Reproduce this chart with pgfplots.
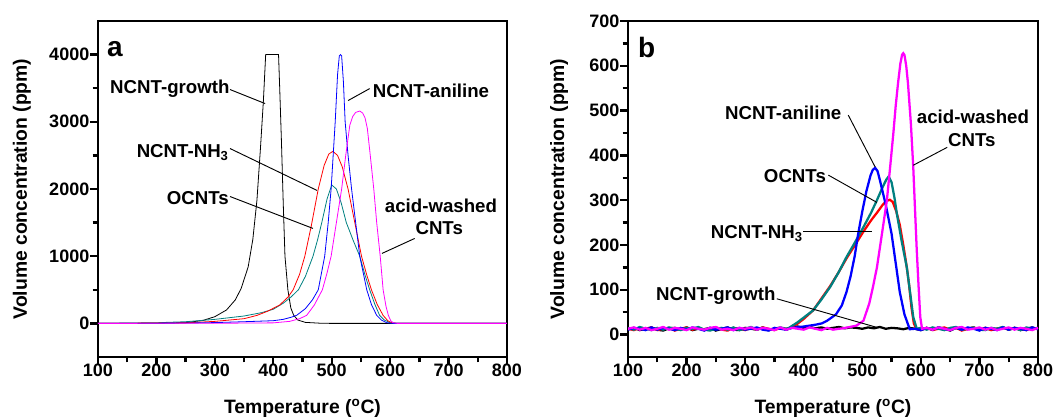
\documentclass[border=0pt]{standalone}
\usepackage{pgfplots}
\pgfplotsset{compat=1.18}
\usepackage{fontspec}
\setmainfont{Liberation Sans}
\definecolor{cteal}{RGB}{0,128,128}
\definecolor{cmag}{RGB}{255,0,255}
\definecolor{cblue}{RGB}{0,0,255}
\definecolor{cred}{RGB}{255,0,0}

\newcommand{\lbl}{\fontsize{14}{16}\selectfont\bfseries}

\pgfplotsset{
  tpo/.style={
    scale only axis, width=306.75pt, height=252pt,
    axis line style={line width=2pt},
    xmin=100, xmax=800, xtick={100,200,...,800}, minor x tick num=1,
    minor y tick num=1,
    xtick align=outside, ytick align=outside, xtick pos=left, ytick pos=left,
    major tick length=6pt, minor tick length=4pt,
    major tick style={line width=1.8pt, black},
    minor tick style={line width=1.8pt, black},
    tick label style={font=\fontsize{13.5}{16}\selectfont\bfseries},
    xticklabel style={yshift=4pt},
    yticklabel style={xshift=3pt},
    /pgf/number format/assume math mode=true,
    /pgf/number format/1000 sep={},
    scaled y ticks=false,
    label style={font=\fontsize{14.5}{17}\selectfont\bfseries},
    xlabel={Temperature (\textsuperscript{o}C)},
    ylabel={Volume concentration (ppm)},
    x label style={at={(axis description cs:0.5,-0.152)}, anchor=center},
  },
  pa/.style={line width=0.6pt},
  pb/.style={line width=1.7pt},
}

\begin{document}
\begin{tikzpicture}
\path[use as bounding box] (0,0) rectangle (792pt,315pt);

% ---- panel a ----
\begin{axis}[tpo, at={(73.5pt,47.25pt)}, anchor=south west,
  ymin=-500, ymax=4500, ytick={0,1000,...,4000},
  y label style={at={(axis description cs:-0.186,0.5)}, anchor=center}]
\addplot[pa, black] coordinates {
  (100,0) (200,2) (250,10) (280,45) (300,100) (320,200) (335,350) (345,520)
  (357,840) (365,1250) (372,1830) (378,2600) (383,3300) (387,4000) (409,4000)
  (411,3500) (414,2700) (417,1800) (420,1000) (425,500) (430,230) (435,120)
  (442,50) (455,15) (480,3) (500,0) (800,0)
};
\addplot[pa, cteal] coordinates {
  (100,0) (200,10) (250,25) (300,60) (350,110) (380,160) (400,210) (417,300)
  (430,390) (443,500) (455,700) (468,1000) (476,1250) (483,1500) (492,1850)
  (500,2060) (508,2000) (516,1800) (525,1500) (537,1230) (548,1000) (557,720)
  (565,500) (574,280) (582,119) (590,50) (600,10) (612,0) (800,0)
};
\addplot[pa, cred] coordinates {
  (100,0) (250,8) (300,30) (350,70) (372,119) (390,180) (411,274) (425,390)
  (434,500) (445,730) (454,1000) (465,1450) (477,2000) (487,2350) (495,2520)
  (502,2560) (510,2500) (518,2330) (528,2000) (540,1480) (551,1000) (560,720)
  (568,500) (578,280) (588,119) (596,40) (603,8) (615,0) (800,0)
};
\addplot[pa, cblue] coordinates {
  (100,0) (250,5) (300,12) (350,25) (400,40) (417,60) (430,90) (440,120)
  (455,220) (467,350) (477,500) (488,1000) (494,1500) (499,2000) (506,3000)
  (510,3700) (513,3980) (515,4000) (517,3980) (520,3600) (523,3000) (528,2500) (534,2000)
  (541,1500) (548,1000) (560,500) (568,280) (577,120) (585,50) (594,10)
  (605,0) (800,0)
};
\addplot[pa, cmag] coordinates {
  (100,0) (300,2) (400,8) (428,30) (445,70) (457,119) (470,270) (484,500)
  (492,750) (499,1000) (508,1500) (517,2000) (524,2500) (531,2950) (536,3080) (541,3140)
  (548,3160) (553,3130) (557,3060) (561,2900) (566,2500) (572,2000) (577,1500) (583,1000)
  (588,500) (593,250) (597,119) (601,40) (605,10) (612,0) (800,0)
};
\node[font=\fontsize{21}{24}\selectfont\bfseries] at (axis cs:129,4089) {a};
\node[font=\lbl] at (axis cs:223,3495) {NCNT-growth};
\draw[line width=0.7pt] (axis cs:326,3480) -- (axis cs:386,3271);
\node[font=\lbl] at (axis cs:670,3465) {NCNT-aniline};
\draw[line width=0.7pt] (axis cs:565,3494) -- (axis cs:528,3316);
\node[font=\lbl] at (axis cs:245,2543) {NCNT-NH\textsubscript{3}};
\draw[line width=0.7pt] (axis cs:326,2602) -- (axis cs:475,1978);
\node[font=\lbl] at (axis cs:271,1859) {OCNTs};
\draw[line width=0.7pt] (axis cs:326,1888) -- (axis cs:468,1413);
\node[font=\lbl] at (axis cs:687,1755) {acid-washed};
\node[font=\lbl] at (axis cs:684,1413) {CNTs};
\draw[line width=0.7pt] (axis cs:642,1264) -- (axis cs:586,1041);
\end{axis}

% ---- panel b ----
\begin{axis}[tpo, width=307.5pt, at={(471pt,47.25pt)}, anchor=south west,
  ymin=-50, ymax=700, ytick={0,100,...,700},
  y label style={at={(axis description cs:-0.168,0.5)}, anchor=center}]
\addplot[pb, black] coordinates {
  (100,12)(110,15)(120,10)(130,13)(140,16)(150,11)(160,9)(170,14)(180,15)(190,11)
  (200,16)(210,10)(220,13)(230,12)(240,15)(250,9)(260,13)(270,16)(280,11)(290,10)
  (300,15)(310,13)(320,11)(330,16)(340,10)(350,13)(360,15)(370,11)(380,16)(390,18)
  (400,15)(410,17)(420,14)(430,16)(440,13)(450,15)(460,17)(470,14)(480,16)(490,15)
  (500,13)(510,16)(520,14)(530,17)(540,13)(550,15)(560,14)(570,12)(580,15)(590,13)
  (600,10)(610,15)(620,11)(630,16)(640,13)(650,9)(660,15)(670,11)(680,13)(690,16)
  (700,10)(710,15)(720,11)(730,13)(740,16)(750,11)(760,15)(770,10)(780,13)(790,16)(800,12)
};
\addplot[pb, cred] coordinates {
  (100,13)(110,10)(120,15)(130,11)(140,16)(150,10)(160,13)(170,15)(180,9)(190,13)
  (200,16)(210,11)(220,15)(230,10)(240,13)(250,16)(260,11)(270,9)(280,15)(290,13)
  (300,10)(310,15)(320,11)(330,16)(340,13)(350,10)(360,15)(370,13)(380,16)(390,25)
  (400,35)(416,54)(430,80)(445,108)(460,140)(473,170)(490,205)(502,230)(515,255)
  (525,272)(535,290)(541,298)(547,301)(552,296)(558,275)(564,245)(570,200)(576,150)
  (580,110)(584,60)(588,25)(592,13)(600,11)(610,15)(620,10)(630,13)(640,16)(650,11)
  (660,15)(670,9)(680,13)(690,16)(700,11)(710,15)(720,10)(730,13)(740,16)(750,11)
  (760,15)(770,13)(780,10)(790,15)(800,13)
};
\addplot[pb, cteal] coordinates {
  (100,15)(110,11)(120,17)(130,13)(140,10)(150,15)(160,11)(170,16)(180,13)(190,10)
  (200,15)(210,13)(220,17)(230,11)(240,9)(250,13)(260,15)(270,11)(280,16)(290,10)
  (300,13)(310,17)(320,11)(330,15)(340,10)(350,13)(360,16)(370,13)(375,15)(390,28)
  (400,38)(416,54)(430,78)(445,106)(460,140)(473,173)(488,207)(502,240)(515,272)
  (525,300)(535,330)(541,346)(545,353)(550,340)(555,305)(559,270)(567,210)(576,150)
  (582,90)(587,39)(593,13)(600,15)(610,11)(620,16)(630,13)(640,10)(650,15)(660,17)
  (670,11)(680,13)(690,16)(700,11)(710,10)(720,15)(730,13)(740,17)(750,11)(760,15)
  (770,10)(780,16)(790,13)(800,15)
};
\addplot[pb, cblue] coordinates {
  (100,11)(110,15)(120,13)(130,10)(140,16)(150,11)(160,15)(170,13)(180,10)(190,15)
  (200,11)(210,16)(220,13)(230,9)(240,15)(250,11)(260,13)(270,16)(280,10)(290,15)
  (300,11)(310,13)(320,16)(330,11)(340,9)(350,15)(360,13)(370,11)(380,15)(400,18)
  (420,22)(431,25)(440,31)(455,45)(465,65)(473,95)(480,130)(487,175)(493,225)
  (500,275)(507,320)(514,355)(518,368)(522,372)(526,365)(530,345)(540,290)(550,225)
  (557,160)(564,95)(572,45)(581,12)(590,13)(600,10)(610,15)(620,11)(630,16)(640,13)
  (650,10)(660,15)(670,11)(680,16)(690,13)(700,9)(710,15)(720,13)(730,10)(740,16)
  (750,11)(760,15)(770,13)(780,10)(790,16)(800,12)
};
\addplot[pb, cmag] coordinates {
  (100,13)(110,16)(120,11)(130,15)(140,10)(150,13)(160,17)(170,11)(180,15)(190,13)
  (200,10)(210,16)(220,13)(230,11)(240,15)(250,17)(260,11)(270,13)(280,10)(290,15)
  (300,13)(310,16)(320,11)(330,15)(340,13)(350,10)(360,16)(370,11)(380,15)(390,13)
  (400,11)(410,16)(420,13)(430,10)(440,15)(450,11)(460,13)(467,14)(475,16)(490,20)
  (502,31)(512,70)(518,105)(525,150)(533,220)(542,300)(548,380)(553,449)(557,510)
  (561,561)(565,605)(568,625)(570,628)(572,624)(575,600)(578,561)(583,470)(587,374)
  (590,280)(593,188)(596,110)(599,39)(602,13)(610,15)(620,11)(630,16)(640,13)(650,10)
  (660,15)(670,17)(680,11)(690,13)(700,16)(710,11)(720,15)(730,10)(740,13)(750,16)
  (760,11)(770,15)(780,13)(790,10)(800,15)
};
\node[font=\fontsize{21}{24}\selectfont\bfseries] at (axis cs:132,640) {b};
\node[font=\lbl] at (axis cs:365,494) {NCNT-aniline};
\draw[line width=0.7pt] (axis cs:476,490) -- (axis cs:522,374);
\node[font=\lbl] at (axis cs:689,485) {acid-washed};
\node[font=\lbl] at (axis cs:687,434) {CNTs};
\draw[line width=0.7pt] (axis cs:645,418) -- (axis cs:587,378);
\node[font=\lbl] at (axis cs:385,353) {OCNTs};
\draw[line width=0.7pt] (axis cs:442,356) -- (axis cs:525,295);
\node[font=\lbl] at (axis cs:320,226) {NCNT-NH\textsubscript{3}};
\draw[line width=0.7pt] (axis cs:399,230) -- (axis cs:517,230);
\node[font=\lbl] at (axis cs:250,87) {NCNT-growth};
\draw[line width=0.7pt] (axis cs:354,80) -- (axis cs:525,16);
\end{axis}
\end{tikzpicture}
\end{document}
